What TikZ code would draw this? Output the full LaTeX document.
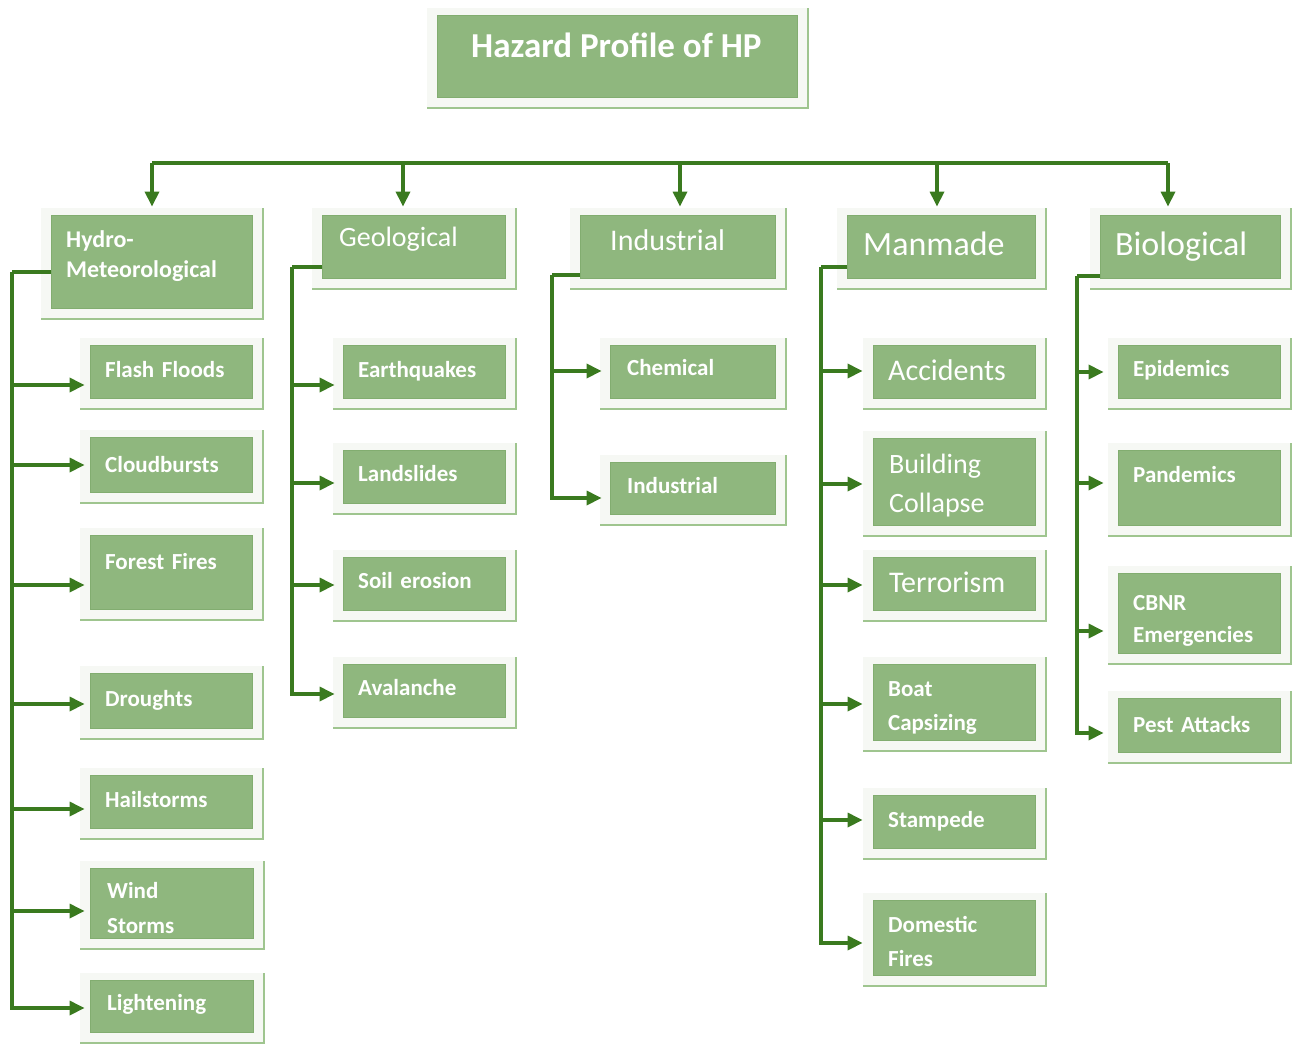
\documentclass[tikz,border=0pt]{standalone}
\usepackage{fontspec}
\setmainfont{Carlito}
\usetikzlibrary{arrows.meta,fit}
\definecolor{boxgreen}{HTML}{8FB77E}
\definecolor{boxedge}{HTML}{82AD70}
\definecolor{framegreen}{HTML}{9FC58F}
\definecolor{framebg}{HTML}{F6F8F4}
\definecolor{arrgreen}{HTML}{3A7A1F}
\tikzset{
  frameline/.style={draw=framegreen, line width=2.5pt},
  box/.style={draw=boxedge, line width=0.8pt, fill=boxgreen, inner sep=0pt},
  lbl/.style={text=white, inner sep=0pt, anchor=base west, align=left},
  sm/.style={lbl, font=\bfseries\fontsize{23}{34}\selectfont, text width=180pt},
  conn/.style={draw=arrgreen, line width=3.3pt},
  arr/.style={conn, -{Triangle[length=15pt,width=14pt]}},
}
\newcommand\hzbox[5]{%
  \fill[framebg] (#2-10,#3-7) rectangle (#4+12,#5+12);
  \draw[frameline] (#4+11,#3-7) -- (#4+11,#5+11) -- (#2-10,#5+11);
  \node[box, fit={(#2,#3) (#4,#5)}] (#1) {};
}
\begin{document}
\begin{tikzpicture}[x=1pt,y=-1pt]
\useasboundingbox[fill=white] (0,0) rectangle (1293,1047);
% boxes
\hzbox{title}{437}{15}{797}{97}
\hzbox{hm}{51}{215}{252}{308}
\hzbox{geo}{322}{215}{505}{278}
\hzbox{ind}{580}{215}{775}{278}
\hzbox{man}{847}{215}{1035}{278}
\hzbox{bio}{1100}{215}{1280}{278}
\hzbox{ff}{90}{345}{252}{398}
\hzbox{cb}{90}{437}{252}{492}
\hzbox{fo}{90}{535}{252}{609}
\hzbox{dr}{90}{673}{252}{728}
\hzbox{ha}{90}{775}{252}{828}
\hzbox{ws}{90}{868}{253}{938}
\hzbox{li}{90}{980}{253}{1032}
\hzbox{eq}{343}{345}{505}{398}
\hzbox{ls}{343}{450}{505}{503}
\hzbox{se}{343}{557}{505}{610}
\hzbox{av}{343}{664}{505}{717}
\hzbox{ch}{610}{345}{775}{398}
\hzbox{in}{610}{462}{775}{514}
\hzbox{ac}{873}{345}{1035}{398}
\hzbox{bc}{873}{438}{1035}{525}
\hzbox{te}{873}{557}{1035}{610}
\hzbox{bo}{873}{664}{1035}{740}
\hzbox{st}{873}{795}{1035}{848}
\hzbox{do}{873}{900}{1035}{975}
\hzbox{ep}{1118}{345}{1280}{398}
\hzbox{pa}{1118}{450}{1280}{525}
\hzbox{cn}{1118}{573}{1280}{653}
\hzbox{pe}{1118}{698}{1280}{752}
% texts
\node[lbl, font=\bfseries\fontsize{35}{40}\selectfont] (t-title) at (471,57) {Hazard Profile of HP};
\node[sm, font=\bfseries\fontsize{24}{30}\selectfont] (t-hm) at (66,247) {Hydro-\\Meteorological};
\node[lbl, font=\fontsize{28}{32}\selectfont] (t-geo) at (339,246) {Geological};
\node[lbl, font=\fontsize{30}{34}\selectfont] (t-ind) at (610,250) {Industrial};
\node[lbl, font=\fontsize{34}{38}\selectfont] (t-man) at (863,255) {Manmade};
\node[lbl, font=\fontsize{34}{38}\selectfont] (t-bio) at (1115,255) {Biological};
\node[sm] (t-ff) at (105,377) {Flash Floods};
\node[sm] (t-cb) at (105,472) {Cloudbursts};
\node[sm] (t-fo) at (105,569) {Forest Fires};
\node[sm] (t-dr) at (105,706) {Droughts};
\node[sm] (t-ha) at (105,807) {Hailstorms};
\node[sm, font=\bfseries\fontsize{23}{35}\selectfont] (t-ws) at (107,898) {Wind\\Storms};
\node[sm] (t-li) at (107,1010) {Lightening};
\node[sm] (t-eq) at (358,377) {Earthquakes};
\node[sm] (t-ls) at (358,481) {Landslides};
\node[sm] (t-se) at (358,588) {Soil erosion};
\node[sm] (t-av) at (358,695) {Avalanche};
\node[sm] (t-ch) at (627,375) {Chemical};
\node[sm] (t-in) at (627,493) {Industrial};
\node[lbl, font=\fontsize{30}{34}\selectfont] (t-ac) at (888,380) {Accidents};
\node[lbl, text width=150pt, font=\fontsize{28}{39}\selectfont] (t-bc) at (889,473) {Building\\Collapse};
\node[lbl, font=\fontsize{30}{34}\selectfont] (t-te) at (889,592) {Terrorism};
\node[sm] (t-bo) at (888,696) {Boat\\Capsizing};
\node[sm] (t-st) at (888,827) {Stampede};
\node[sm] (t-do) at (888,932) {Domestic\\Fires};
\node[sm] (t-ep) at (1133,376) {Epidemics};
\node[sm] (t-pa) at (1133,482) {Pandemics};
\node[sm, font=\bfseries\fontsize{23}{32}\selectfont] (t-cn) at (1133,610) {CBNR\\Emergencies};
\node[sm] (t-pe) at (1133,732) {Pest Attacks};
% top bus
\coordinate (b1) at (152,163);
\coordinate (b2) at (403,163);
\coordinate (b3) at (680,163);
\coordinate (b4) at (937,163);
\coordinate (b5) at (1168,163);
\draw[conn] (b1) -- (b5);
\draw[arr, shorten >=8pt] (b1) -- (b1 |- hm.north);
\draw[arr, shorten >=8pt] (b2) -- (b2 |- geo.north);
\draw[arr, shorten >=8pt] (b3) -- (b3 |- ind.north);
\draw[arr, shorten >=8pt] (b4) -- (b4 |- man.north);
\draw[arr, shorten >=8pt] (b5) -- (b5 |- bio.north);
% column 1
\coordinate (k1) at (12,272);
\draw[conn] (hm.west |- k1) -- (k1);
\foreach \n/\y in {ff/385, cb/465, fo/585, dr/704, ha/809, ws/911, li/1008}
  \draw[arr, shorten >=5pt] (k1) |- (\n.west |- 0,\y);
% column 2
\coordinate (k2) at (292,267);
\draw[conn] (geo.west |- k2) -- (k2);
\foreach \n/\y in {eq/385, ls/483, se/585, av/694}
  \draw[arr, shorten >=8pt] (k2) |- (\n.west |- 0,\y);
% column 3
\coordinate (k3) at (552,275);
\draw[conn] (ind.west |- k3) -- (k3);
\foreach \n/\y in {ch/371, in/498}
  \draw[arr, shorten >=8pt] (k3) |- (\n.west |- 0,\y);
% column 4
\coordinate (k4) at (821,267);
\draw[conn] (man.west |- k4) -- (k4);
\foreach \n/\y in {ac/371, bc/484, te/585, bo/704, st/820, do/943}
  \draw[arr, shorten >=10pt] (k4) |- (\n.west |- 0,\y);
% column 5
\coordinate (k5) at (1077,276);
\draw[conn] (bio.west |- k5) -- (k5);
\foreach \n/\y in {ep/372, pa/483, cn/631, pe/733}
  \draw[arr, shorten >=14pt] (k5) |- (\n.west |- 0,\y);
\end{tikzpicture}
\end{document}
